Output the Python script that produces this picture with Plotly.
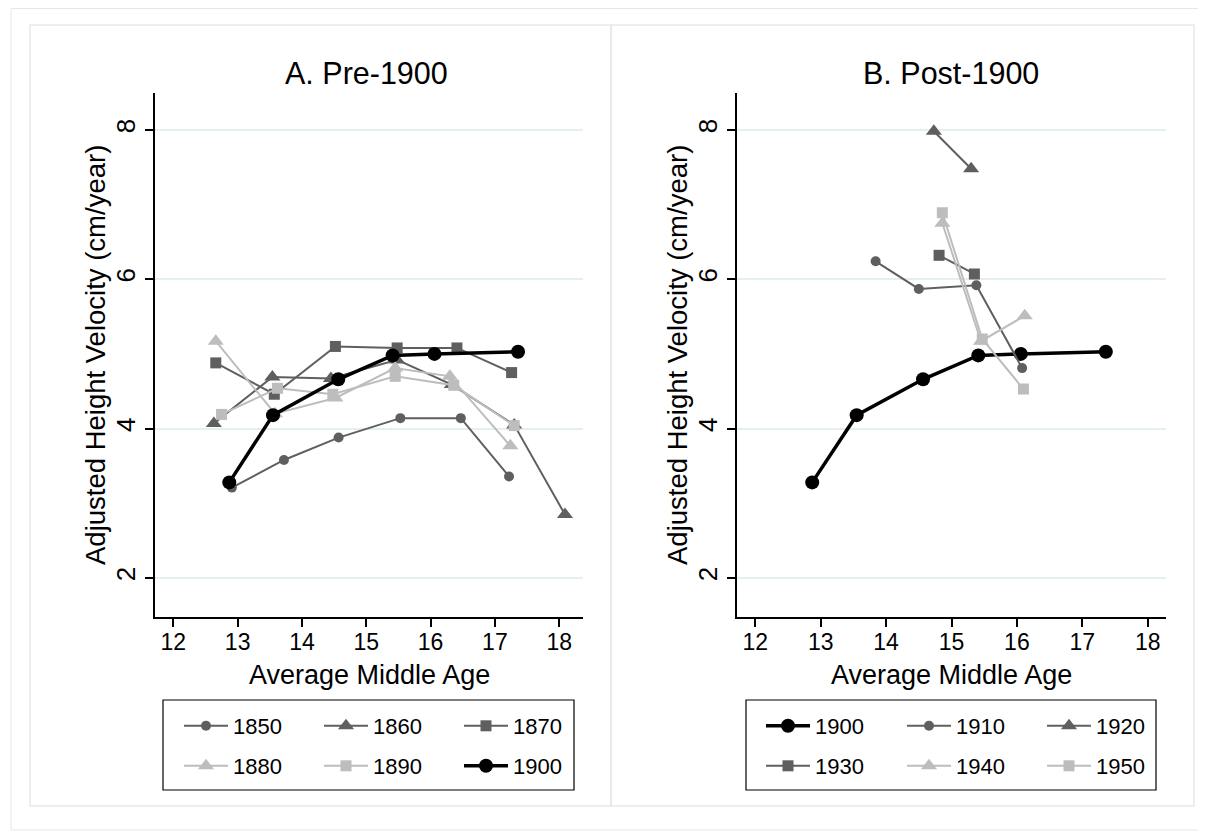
import plotly.graph_objects as go

# page has an 8px body margin; figure drawn in the remaining area
OFF = 8
W, H = 1206 - OFF, 838 - OFF

# ---------------- data ----------------
pre_years = ["1850", "1860", "1870", "1880", "1890", "1900"]
x1850 = [12.91, 13.72, 14.57, 15.53, 16.47, 17.22]
y1850 = [3.21, 3.58, 3.88, 4.14, 4.14, 3.36]
x1860 = [12.63, 13.54, 14.45, 15.48, 16.33, 17.30, 18.09]
y1860 = [4.07, 4.69, 4.67, 4.92, 4.59, 4.05, 2.85]
x1870 = [12.66, 13.57, 14.52, 15.48, 16.41, 17.26]
y1870 = [4.88, 4.46, 5.10, 5.08, 5.08, 4.75]
x1880 = [12.66, 13.58, 14.52, 15.45, 16.30, 17.24]
y1880 = [5.17, 4.20, 4.41, 4.81, 4.70, 3.77]
x1890 = [12.75, 13.62, 14.48, 15.45, 16.36, 17.30]
y1890 = [4.19, 4.54, 4.46, 4.70, 4.58, 4.04]
x1900 = [12.87, 13.55, 14.565, 15.41, 16.06, 17.36]
y1900 = [3.28, 4.18, 4.66, 4.98, 5.00, 5.03]

post_years = ["1900", "1910", "1920", "1930", "1940", "1950"]
x1910 = [13.84, 14.50, 15.38, 16.08]
y1910 = [6.24, 5.87, 5.92, 4.81]
x1920 = [14.73, 15.30]
y1920 = [7.98, 7.48]
x1930 = [14.81, 15.35]
y1930 = [6.32, 6.07]
x1940 = [14.86, 15.45, 16.12]
y1940 = [6.75, 5.17, 5.51]
x1950 = [14.86, 15.47, 16.10]
y1950 = [6.89, 5.20, 4.53]

x_ticks = [12, 13, 14, 15, 16, 17, 18]
y_ticks = [2, 4, 6, 8]

panel_titles = ["A. Pre-1900", "B. Post-1900"]
x_title = "Average Middle Age"
y_title = "Adjusted Height Velocity (cm/year)"

# ---------------- styles ----------------
DARK = "#5f5f5f"
LIGHT = "#bdbdbd"
BLACK = "#000000"
FONT = "Liberation Sans, Arial, Helvetica, sans-serif"
GRID = "#e5eef0"

def px_x(p):
    return (p - OFF) / W

def px_y(p):
    return 1 - (p - OFF) / H

fig = go.Figure()

# legend slots (text start x, row y) in page pixels
left_cols = [241, 381, 521]
right_cols = [823, 964, 1104]
rows = [726, 766]
ITEMW = 44

def add_series(x, y, name, color, symbol, size, lw, xa, ya, legid):
    fig.add_trace(go.Scatter(
        x=x, y=y, name=name, mode="lines+markers",
        line=dict(color=color, width=lw),
        marker=dict(color=color, symbol=symbol, size=size, line=dict(width=0)),
        xaxis=xa, yaxis=ya, legend=legid, showlegend=True,
    ))

panelA = [
    (x1850, y1850, pre_years[0], DARK, "circle", 10, 2),
    (x1860, y1860, pre_years[1], DARK, "triangle-up", 14, 2),
    (x1870, y1870, pre_years[2], DARK, "square", 11, 2),
    (x1880, y1880, pre_years[3], LIGHT, "triangle-up", 14, 2),
    (x1890, y1890, pre_years[4], LIGHT, "square", 11, 2),
    (x1900, y1900, pre_years[5], BLACK, "circle", 14, 3.5),
]
panelB = [
    (x1900, y1900, post_years[0], BLACK, "circle", 14, 3.5),
    (x1910, y1910, post_years[1], DARK, "circle", 10, 2),
    (x1920, y1920, post_years[2], DARK, "triangle-up", 14, 2),
    (x1930, y1930, post_years[3], DARK, "square", 11, 2),
    (x1940, y1940, post_years[4], LIGHT, "triangle-up", 14, 2),
    (x1950, y1950, post_years[5], LIGHT, "square", 11, 2),
]

legend_layouts = {}
k = 0
for panel, cols, xa, ya in [(panelA, left_cols, "x", "y"), (panelB, right_cols, "x2", "y2")]:
    for i, (x, y, name, color, sym, size, lw) in enumerate(panel):
        k += 1
        legid = "legend" if k == 1 else f"legend{k}"
        add_series(x, y, name, color, sym, size, lw, xa, ya, legid)
        col = cols[i % 3]
        row = rows[i // 3]
        legend_layouts[legid] = dict(
            x=px_x(col - ITEMW - 18), xanchor="left",
            y=px_y(row), yanchor="middle",
            orientation="v", itemwidth=ITEMW,
            bgcolor="rgba(0,0,0,0)", borderwidth=0,
            font=dict(family=FONT, size=22, color="black"),
        )

def xaxis_cfg(domain, rng, anchor):
    return dict(
        domain=domain, range=rng, anchor=anchor,
        tickmode="array", tickvals=x_ticks, ticktext=[str(v) for v in x_ticks],
        ticks="outside", ticklen=8, tickwidth=1.5, tickcolor="black",
        ticklabelstandoff=-4,
        showline=True, linecolor="black", linewidth=1.5,
        showgrid=False, zeroline=False,
        tickfont=dict(family=FONT, size=23, color="black"),
        automargin=False, fixedrange=True,
    )

def yaxis_cfg(domain, rng, anchor):
    return dict(
        domain=domain, range=rng, anchor=anchor,
        tickmode="array", tickvals=y_ticks, ticktext=[str(v) for v in y_ticks],
        ticks="outside", ticklen=8, tickwidth=1.5, tickcolor="black",
        tickangle=-90, ticklabelstandoff=0,
        showline=True, linecolor="black", linewidth=1.5,
        showgrid=True, gridcolor=GRID, gridwidth=1.5, zeroline=False,
        tickfont=dict(family=FONT, size=26, color="black"),
        automargin=False, fixedrange=True,
    )

def ann(text, x, y, size, angle=0):
    return dict(text=text, x=px_x(x), y=px_y(y), xref="paper", yref="paper",
                xanchor="center", yanchor="middle", showarrow=False, textangle=angle,
                font=dict(family=FONT, size=size, color="black"))

ydom = [px_y(617), px_y(93)]
layout = dict(
    width=W, height=H,
    margin=dict(l=0, r=0, t=0, b=0),
    paper_bgcolor="white", plot_bgcolor="white",
    font=dict(family=FONT, color="black"),
    xaxis=xaxis_cfg([px_x(155), px_x(583)], [11.715, 18.37], "y"),
    yaxis=yaxis_cfg(ydom, [1.478, 8.493], "x"),
    xaxis2=xaxis_cfg([px_x(737), px_x(1166)], [11.72, 18.28], "y2"),
    yaxis2=yaxis_cfg(ydom, [1.478, 8.493], "x2"),
    annotations=[
        ann(panel_titles[0], 366, 73, 30.5),
        ann(panel_titles[1], 951, 73, 30.5),
        ann(x_title, 369, 675, 27),
        ann(x_title, 951, 675, 27),
        ann(y_title, 95, 355, 27.5, -90),
        ann(y_title, 677, 355, 27.5, -90),
    ],
    shapes=[
        dict(type="rect", xref="paper", yref="paper", x0=px_x(11), x1=px_x(1215), y0=px_y(830), y1=px_y(8.5),
             line=dict(color="#e3e9eb", width=1), fillcolor="rgba(0,0,0,0)", layer="below"),
        dict(type="rect", xref="paper", yref="paper", x0=px_x(30), x1=px_x(611), y0=px_y(806), y1=px_y(25),
             line=dict(color="#e3eaec", width=1.5), fillcolor="rgba(0,0,0,0)", layer="below"),
        dict(type="rect", xref="paper", yref="paper", x0=px_x(611), x1=px_x(1194), y0=px_y(806), y1=px_y(25),
             line=dict(color="#e3eaec", width=1.5), fillcolor="rgba(0,0,0,0)", layer="below"),
        dict(type="rect", xref="paper", yref="paper", x0=px_x(163), x1=px_x(574), y0=px_y(790), y1=px_y(700),
             line=dict(color="black", width=1.2), fillcolor="rgba(0,0,0,0)"),
        dict(type="rect", xref="paper", yref="paper", x0=px_x(746), x1=px_x(1156), y0=px_y(790), y1=px_y(700),
             line=dict(color="black", width=1.2), fillcolor="rgba(0,0,0,0)"),
    ],
)
layout.update(legend_layouts)
fig.update_layout(**layout)

fig.write_html("out.html")
